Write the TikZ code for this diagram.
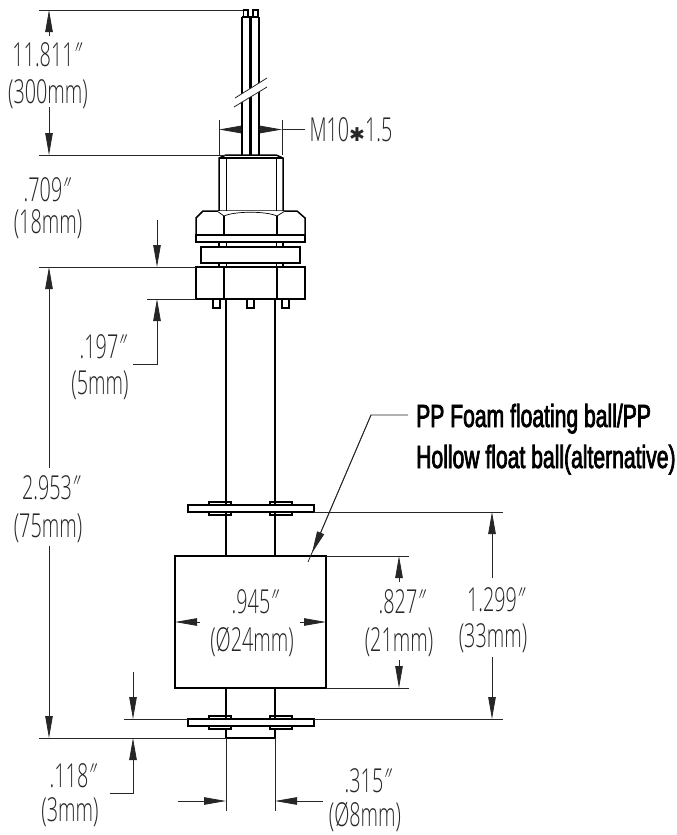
\documentclass[tikz,border=0pt]{standalone}
\usepackage{fontspec}
\usetikzlibrary{arrows.meta}
\newfontfamily\dimfont[FakeStretch=0.6,UprightFont=* Light]{Open Sans}
\newfontfamily\notefont[FakeStretch=0.66,FakeBold=2.2]{Liberation Sans}
\newfontfamily\starfont{DejaVu Sans}
\newcommand{\inchmark}{\kern-5pt{\addfontfeature{FakeSlant=.35}″}}
\tikzset{
 body/.style={line width=1.5pt, line join=miter},
 thinbody/.style={line width=0.7pt},
 extline/.style={line width=0.8pt, black!85},
 dimline/.style={line width=0.8pt, black!85, -{Triangle[length=22pt, width=7.5pt]}},
 dimlabel/.style={font=\dimfont\fontsize{33}{33}\selectfont, inner sep=0pt, text=black!85},
 notelabel/.style={font=\notefont\fontsize{32}{32}\selectfont, inner sep=0pt, anchor=base west},
 pics/floatplate/.style={
  % origin sits at the middle of the plate, between the two rods
  code={
   \draw [thick, line width=1.2pt] (-42, -6.5) rectangle (-20, 6.5);
   \draw [thick, line width=1.2pt] (19, -6.5) rectangle (41, 6.5);
   \draw [body, fill=white] (-63, -3.5) rectangle (63, 3.5);
  }
 }
}

\begin{document}
\begin{tikzpicture}[x=1pt, y=-1pt]
 \useasboundingbox (0, 0) rectangle (677, 835);

 % wires
 \draw [body] (242, 17) -- (242, 155);
 \draw [body, line width=2.2pt] (250.5, 17) -- (250.5, 155);
 \draw [body] (259, 17) -- (259, 155);
 \draw [body] (242, 17) -- (259, 17);
 \draw [thinbody, line width=1.1pt] (243.5, 17) -- (243.5, 10) -- (248, 10) -- (248, 17);
 \draw [thinbody, line width=1.1pt] (253, 17) -- (253, 10) -- (258, 10) -- (258, 17);
 \fill [white] (235, 98) -- (267, 78) -- (267, 87) -- (234, 107) -- cycle;
 \draw [extline] (235, 98) -- (267, 78);
 \draw [extline] (234, 107) -- (267, 87);

 % threaded neck
 \draw [body] (219, 211) -- (219, 158) -- (226, 155) -- (276, 155) -- (283, 158) -- (283, 211);
 \draw [body] (219, 158) -- (283, 158);
 \draw [thinbody] (226, 158) -- (226, 211);
 \draw [thinbody] (276, 158) -- (276, 211);

 % upper nut
 \draw [body] (196, 235) -- (196, 218) -- (203, 211) -- (297, 211) -- (305, 218) -- (305, 235) -- cycle;
 \draw [thinbody, fill=white] (217, 211) -- (224, 216) .. controls (235, 211) and (266, 211) .. (277, 216) -- (285, 211);
 \draw [body] (224, 216) -- (224, 235);
 \draw [body] (277, 216) -- (277, 235);
 \draw [body] (196, 235) rectangle (305, 242);

 % washer and ties
 \foreach \xtie in {219, 283} {
  \draw [body] (\xtie, 242) -- (\xtie, 247);
  \draw [body] (\xtie, 263) -- (\xtie, 267);
 }
 \foreach \xtie in {226, 276} {
  \draw [thinbody] (\xtie, 242) -- (\xtie, 247);
  \draw [thinbody] (\xtie, 263) -- (\xtie, 267);
 }
 \draw [body] (201, 247) rectangle (300, 263);

 % lower nut and pins
 \draw [body] (196, 267) rectangle (305, 299);
 \draw [body] (224, 267) -- (224, 299);
 \draw [body] (277, 267) -- (277, 299);
 \foreach \xpin in {213, 247, 282} {
  \draw [thinbody, line width=1.1pt] (\xpin, 299) rectangle ++(7, 9);
 }

 % rods
 \foreach \xrod in {226, 275} {
  \draw [body] (\xrod, 299) -- (\xrod, 505);
  \draw [body] (\xrod, 512) -- (\xrod, 556);
  \draw [body] (\xrod, 688) -- (\xrod, 719);
 }

 % float and plates
 \draw [body] (175, 556) rectangle (326, 688);
 \path (251, 508.5) pic {floatplate};
 \path (251, 722.5) pic {floatplate};
 \draw [body] (226, 729) -- (226, 738) -- (275, 738) -- (275, 729);

 % extension lines
 \draw [extline] (39, 10) -- (243, 10);
 \draw [extline, line width=1pt] (39, 155) -- (226, 155);
 \draw [extline] (39, 267) -- (196, 267);
 \draw [extline] (147, 299) -- (196, 299);
 \draw [extline] (314, 512) -- (503, 512);
 \draw [extline] (326, 556) -- (409, 556);
 \draw [extline] (326, 688) -- (409, 688);
 \draw [extline] (124, 719) -- (188, 719);
 \draw [extline] (314, 719) -- (503, 719);
 \draw [extline, line width=1pt] (39, 738) -- (226, 738);
 \draw [extline] (219, 120) -- (219, 155);
 \draw [extline] (282, 120) -- (282, 155);
 \draw [extline] (226, 738) -- (226, 811);
 \draw [extline] (275, 738) -- (275, 811);

 % dimension arrows
 \draw [dimline] (49, 36) -- (49, 10);
 \draw [dimline] (49, 107) -- (49, 155);
 \draw [dimline] (242, 129.5) -- (219, 129.5);
 \draw [dimline] (259, 129.5) -- (282, 129.5);
 \draw [extline] (282, 129.5) -- (305, 129.5);
 \draw [dimline] (157, 220) -- (157, 267);
 \draw [dimline] (133, 364) -- (157, 364) -- (157, 299);
 \draw [dimline] (49, 468) -- (49, 267);
 \draw [dimline] (49, 546) -- (49, 738);
 \draw [dimline] (200, 622) -- (175, 622);
 \draw [dimline] (300, 622) -- (326, 622);
 \draw [dimline] (399, 582) -- (399, 556);
 \draw [dimline] (399, 660) -- (399, 688);
 \draw [dimline] (492, 578) -- (492, 512);
 \draw [dimline] (492, 657) -- (492, 719);
 \draw [dimline] (133, 672) -- (133, 719);
 \draw [dimline] (110, 793) -- (133, 793) -- (133, 738);
 \draw [dimline] (178, 801) -- (226, 801);
 \draw [dimline] (323, 801) -- (275, 801);

 % dimension labels
 \node [dimlabel] (wire_in) at (44, 55) {11.811\inchmark};
 \node [dimlabel] (wire_mm) at (48, 94) {(300mm)};
 \node [dimlabel] (neck_in) at (44, 190) {.709\inchmark};
 \node [dimlabel] (neck_mm) at (48, 224) {(18mm)};
 \node [dimlabel] (thread) at (351, 130) {M10{\starfont\fontsize{19}{19}\selectfont ✱}1.5};
 \node [dimlabel] (nut_in) at (100, 347) {.197\inchmark};
 \node [dimlabel] (nut_mm) at (100, 385) {(5mm)};
 \node [dimlabel] (stem_in) at (48, 488) {2.953\inchmark};
 \node [dimlabel] (stem_mm) at (48, 528) {(75mm)};
 \node [dimlabel] (float_in) at (252, 602) {.945\inchmark};
 \node [dimlabel] (float_mm) at (252, 642) {(Ø24mm)};
 \node [dimlabel] (height_in) at (399, 602) {.827\inchmark};
 \node [dimlabel] (height_mm) at (399, 642) {(21mm)};
 \node [dimlabel] (travel_in) at (493, 600) {1.299\inchmark};
 \node [dimlabel] (travel_mm) at (493, 638) {(33mm)};
 \node [dimlabel] (end_in) at (70, 776) {.118\inchmark};
 \node [dimlabel] (end_mm) at (70, 812) {(3mm)};
 \node [dimlabel] (rod_in) at (365, 781) {.315\inchmark};
 \node [dimlabel] (rod_mm) at (365, 817) {(Ø8mm)};

 % note with leader
 \node [notelabel] (note_one) at (416, 427) {PP Foam floating ball/PP};
 \node [notelabel] (note_two) at (416, 468) {Hollow float ball(alternative)};
 \coordinate (leader_start) at (408, 415);
 \coordinate (leader_bend) at (371, 415);
 \coordinate (leader_end) at (308, 562);
 \draw [extline] (leader_start) -- (leader_bend) -- (leader_end);
 \draw [dimline] (leader_bend) -- (312, 553);
\end{tikzpicture}
\end{document}
